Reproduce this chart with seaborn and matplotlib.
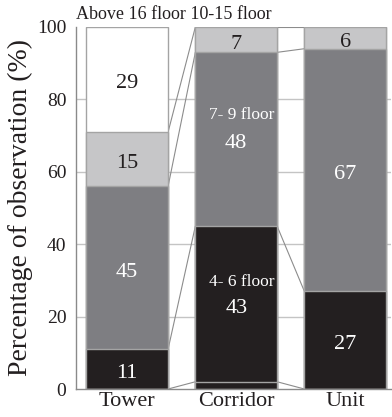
import numpy as np
import matplotlib
matplotlib.use("Agg")
import matplotlib.pyplot as plt
import seaborn as sns

categories = ["Tower", "Corridor", "Unit"]
floor_1_3 = [0, 2, 0]
floor_4_6 = [11, 43, 27]
floor_7_9 = [45, 48, 67]
floor_10_15 = [15, 7, 6]
above_16 = [29, 0, 0]
layer_names = ["1-3 floor", "4- 6 floor", "7- 9 floor", "10-15 floor", "Above 16 floor"]
y_ticks = [0, 20, 40, 60, 80, 100]
grid_levels = [20, 40, 60, 80]

sns.set_theme(style="white")
plt.rcParams["font.family"] = ["Liberation Serif", "DejaVu Serif"]

layers = [floor_1_3, floor_4_6, floor_7_9, floor_10_15, above_16]
colors = ["#231f20", "#231f20", "#7e7e82", "#c6c6c8", "#ffffff"]
text_colors = ["white", "white", "white", "#231f20", "#231f20"]
edge = "#a4a4a4"
width = 0.75

cum = np.cumsum(np.array(layers), axis=0)
bottoms = cum - np.array(layers)

fig = plt.figure(figsize=(3.92, 4.17), dpi=100)
ax = fig.add_axes([76 / 392, 28 / 417, 315 / 392, 362 / 417])

# light horizontal guides (no line at 100)
for g in grid_levels:
    ax.axhline(g, color="#c4c4c4", lw=1.0, zorder=0)

# stacked bars: draw cumulative totals from the top layer down
for k in range(len(layers) - 1, -1, -1):
    sns.barplot(x=categories, y=cum[k], color=colors[k], edgecolor=edge,
                linewidth=1.0, saturation=1, width=width, ax=ax, zorder=2)

# series lines between neighbouring bars
for k in range(len(layers) - 1):
    for i in range(len(categories) - 1):
        ax.plot([i + width / 2, i + 1 - width / 2], [cum[k][i], cum[k][i + 1]],
                color="#8c8c8c", lw=0.8, zorder=1)

# value labels
for k, vals in enumerate(layers):
    for i, v in enumerate(vals):
        if v < 5:
            continue
        mid = bottoms[k][i] + v / 2
        ax.text(i, mid - 1.2, str(v), ha="center", va="center",
                color=text_colors[k], fontsize=16, zorder=3)

# floor names inside the corridor bar
ax.text(1.05, bottoms[1][1] + floor_4_6[1] / 2 + 6.0, layer_names[1], ha="center",
        va="center", color="white", fontsize=12.5, zorder=3)
ax.text(1.05, bottoms[2][1] + floor_7_9[1] / 2 + 6.6, layer_names[2], ha="center",
        va="center", color="white", fontsize=12.5, zorder=3)

ax.text(0.0, 1.022, layer_names[4] + " " + layer_names[3], transform=ax.transAxes,
        ha="left", va="baseline", fontsize=13, color="#231f20")

ax.set_ylim(0, 100)
ax.set_xlim(-0.47, 2.42)
ax.set_yticks(y_ticks)
ax.set_yticklabels([str(t) for t in y_ticks], fontsize=14, color="#231f20")
ax.set_xticks(range(len(categories)))
ax.set_xticklabels(categories, fontsize=16, color="#231f20")
ax.set_xticks([0.5, 1.5], minor=True)
ax.tick_params(axis="x", which="major", length=0, pad=2)
ax.tick_params(axis="x", which="minor", direction="in", length=3.5, color=edge, width=0.8)
ax.tick_params(axis="y", direction="in", length=3, color=edge, pad=7)
ax.set_xlabel("")
ax.set_ylabel("Percentage of observation (%)", fontsize=20, color="#231f20")
ax.yaxis.set_label_coords(-0.135, 0.5)
for side in ["top", "right"]:
    ax.spines[side].set_visible(False)
for side in ["left", "bottom"]:
    ax.spines[side].set_color("#8a8a8a")
    ax.spines[side].set_linewidth(1.0)

fig.savefig("out.png", dpi=100)
